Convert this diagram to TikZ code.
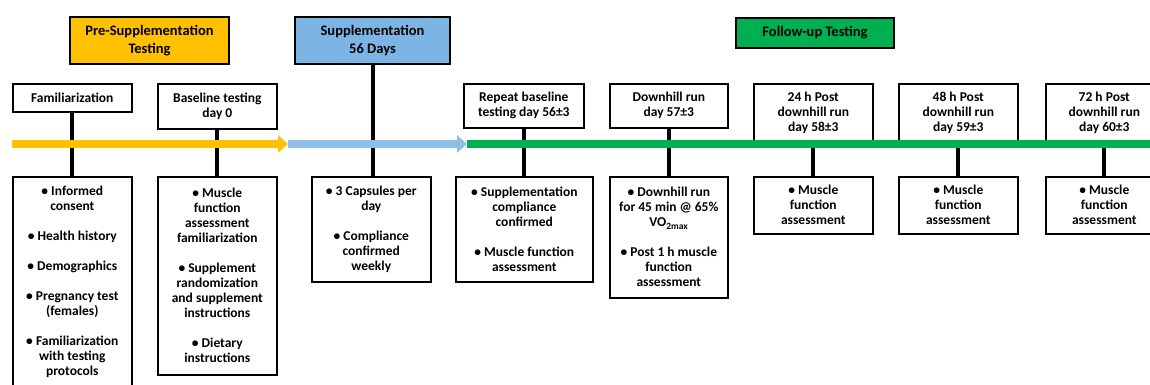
\documentclass[tikz,border=0pt]{standalone}
\usepackage{fontspec}
\setmainfont{Carlito}
\usetikzlibrary{arrows.meta}
\definecolor{preor}{RGB}{255,192,0}
\definecolor{supbl}{RGB}{124,181,227}
\definecolor{arrbl}{RGB}{141,191,232}
\definecolor{fugr}{RGB}{0,176,80}
\begin{document}
\begin{tikzpicture}[x=1pt,y=-1pt,
 hdr/.style={draw=black, line width=2pt, font=\fontsize{14.5}{17.5}\selectfont\bfseries, align=center, inner sep=0pt, anchor=north west},
 box/.style={draw=black, line width=1.6pt, fill=white, font=\fontsize{13.5}{15}\selectfont\bfseries, align=center, inner sep=0pt, anchor=north west},
 conn/.style={line width=4pt, black},
 tl/.style={line width=8pt},
 tip/.style={-{Triangle[length=10pt,width=17pt]}}
]
\useasboundingbox (0,0) rectangle (1150,385);
% headers
\node[hdr, fill=preor, minimum width=159pt, minimum height=47pt] (pre) at (69,16) {Pre-Supplementation\\Testing};
\node[hdr, fill=supbl, minimum width=155pt, minimum height=47pt] (sup) at (294,16) {Supplementation\\56 Days};
\node[hdr, fill=fugr, minimum width=158pt, minimum height=30pt] (fu) at (735,17) {Follow-up Testing};
% top boxes
\node[box, minimum width=119pt, minimum height=28pt] (fam) at (12,83) {Familiarization};
\node[box, minimum width=119pt, minimum height=45pt] (base) at (157,83) {Baseline testing\\day 0};
\node[box, minimum width=120pt, minimum height=44pt] (rep) at (463,83) {Repeat baseline\\testing day 56±3};
\node[box, minimum width=118pt, minimum height=44pt] (dh) at (609,83) {Downhill run\\day 57±3};
\node[box, minimum width=119pt, minimum height=59pt] (p24) at (753,83) {24 h Post\\downhill run\\day 58±3};
\node[box, minimum width=119pt, minimum height=59pt] (p48) at (898,83) {48 h Post\\downhill run\\day 59±3};
\node[box, minimum width=117pt, minimum height=59pt] (p72) at (1045,83) {72 h Post\\downhill run\\day 60±3};
% bottom boxes
\node[box, minimum width=119pt, minimum height=211pt] (famb) at (12,176) {• Informed\\consent\\[15pt]• Health history\\[15pt]• Demographics\\[15pt]• Pregnancy test\\(females)\\[15pt]• Familiarization\\with testing\\protocols};
\node[box, minimum width=119pt, minimum height=198pt] (baseb) at (157,176) {• Muscle\\function\\assessment\\familiarization\\[15pt]• Supplement\\randomization\\and supplement\\instructions\\[15pt]• Dietary\\instructions};
\node[box, minimum width=119pt, minimum height=105pt] (supb) at (311,176) {• 3 Capsules per\\day\\[15pt]• Compliance\\confirmed\\weekly};
\node[box, minimum width=137pt, minimum height=105pt] (repb) at (455,176) {• Supplementation\\compliance\\confirmed\\[15pt]• Muscle function\\assessment};
\node[box, minimum width=118pt, minimum height=121pt] (dhb) at (609,176) {• Downhill run\\for 45 min @ 65\%\\VO\textsubscript{2max}\\[15pt]• Post 1 h muscle\\function\\assessment};
\node[box, minimum width=119pt, minimum height=57pt] (p24b) at (753,176) {• Muscle\\function\\assessment};
\node[box, minimum width=119pt, minimum height=57pt] (p48b) at (898,176) {• Muscle\\function\\assessment};
\node[box, minimum width=117pt, minimum height=57pt] (p72b) at (1045,176) {• Muscle\\function\\assessment};
% connectors
\foreach \a/\b in {fam/famb, base/baseb, sup/supb, rep/repb, dh/dhb, p24/p24b, p48/p48b, p72/p72b}
  \draw[conn] (\a.south) -- (\a.south |- \b.north);
% timeline
\coordinate (o1) at (12,144);
\coordinate (o2) at (288,144);
\coordinate (b2) at (467,144);
\coordinate (g2) at (1160,144);
\draw[tl, preor, tip] (o1) -- (o2);
\draw[tl, arrbl, tip] (o2) -- (b2);
\draw[tl, fugr] (b2) -- (g2);
\end{tikzpicture}
\end{document}
